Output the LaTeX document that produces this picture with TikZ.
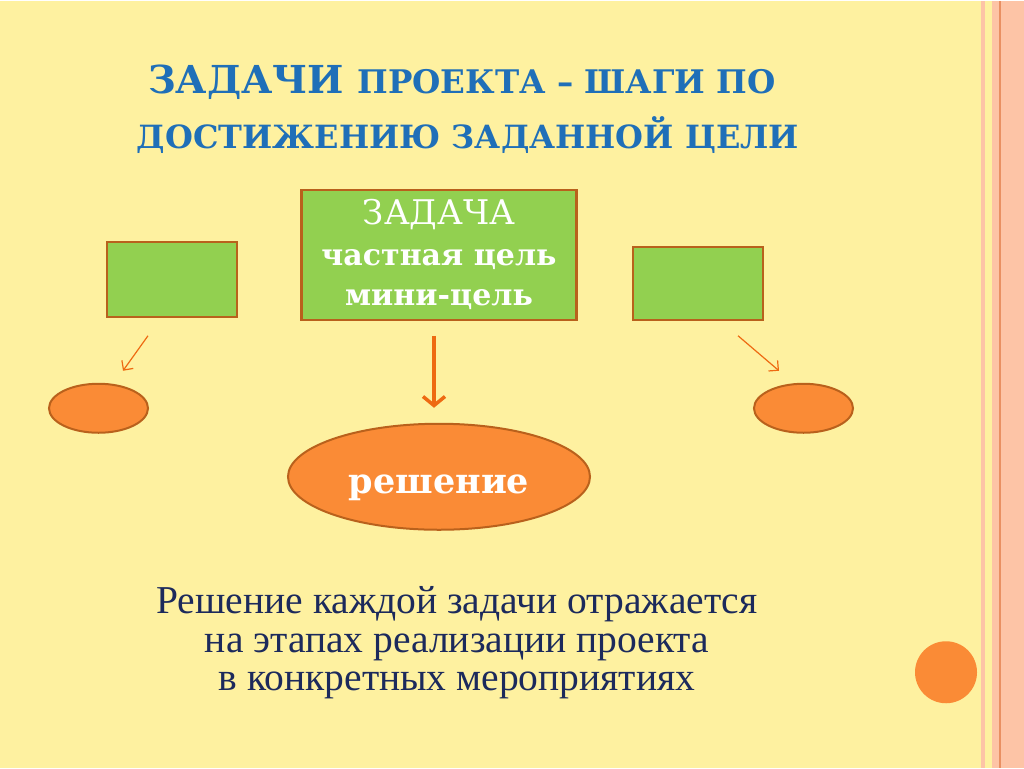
\documentclass[tikz,border=0pt]{standalone}
\usepackage{fontspec}
\setmainfont{DejaVu Serif}
\newfontfamily\notefont{Liberation Serif}
\usetikzlibrary{shapes.geometric,arrows.meta}
\definecolor{slide}{HTML}{FEF1A0}
\definecolor{stripe}{HTML}{FDC4A6}
\definecolor{stripeline}{HTML}{E99062}
\definecolor{titleblue}{HTML}{1F6FB8}
\definecolor{boxgreen}{HTML}{92D050}
\definecolor{boxedge}{HTML}{B9611C}
\definecolor{ovalfill}{HTML}{FA8B36}
\definecolor{arrowcol}{HTML}{EE6A12}
\definecolor{notecol}{HTML}{1C2A5C}
\tikzset{
  greenbox/.style={rectangle,draw=boxedge,fill=boxgreen,line width=2.5pt,inner sep=0pt},
  oval/.style={ellipse,draw=boxedge,fill=ovalfill,line width=2pt,inner sep=0pt},
  thinarrow/.style={draw=arrowcol,line width=1.2pt,-{Straight Barb[length=7pt,width=14pt]}},
  thickarrow/.style={draw=arrowcol,line width=3.5pt,-{Straight Barb[length=9pt,width=22pt]}},
  noteline/.style={anchor=base,text=notecol,font=\notefont\fontsize{39.5}{42}\selectfont}
}
\begin{document}
\begin{tikzpicture}[x=1pt,y=-1pt]
  % background and stripes
  \fill[slide] (0,0) rectangle (1024,767);
  \fill[stripe] (981,0) rectangle (985,767);
  \fill[stripe] (992,0) rectangle (1024,767);
  \draw[stripeline,line width=1.5pt] (1000,0) -- (1000,767);

  % title
  \node[anchor=base,text=titleblue,font=\bfseries] (title1) at (462,93)
    {{\fontsize{38.5}{44}\selectfont ЗАДАЧИ}\hspace{13pt}{\fontsize{32.5}{40}\selectfont ПРОЕКТА – ШАГИ ПО}};
  \node[anchor=base,text=titleblue,font=\bfseries\fontsize{32}{40}\selectfont] (title2) at (468,148)
    {ДОСТИЖЕНИЮ ЗАДАННОЙ ЦЕЛИ};

  % boxes
  \node[greenbox,minimum width=275pt,minimum height=130pt,text=white,align=center,
        font=\fontsize{34}{40.5}\selectfont] (zadacha) at (439,254)
    {ЗАДАЧА\\ \bfseries\fontsize{30}{40.5}\selectfont частная цель\\
     \bfseries\fontsize{30}{40.5}\selectfont мини-цель};
  \node[greenbox,minimum width=130pt,minimum height=75pt] (leftbox) at (172,278.5) {};
  \node[greenbox,minimum width=130pt,minimum height=73pt] (rightbox) at (698,282.5) {};

  % ovals
  \node[oval,minimum width=302pt,minimum height=106pt,text=white,text height=42pt,text depth=8pt,
        font=\bfseries\fontsize{35}{40}\selectfont] (reshenie) at (439,476) {решение};
  \node[oval,minimum width=99pt,minimum height=49pt] (leftoval) at (98.5,407.5) {};
  \node[oval,minimum width=99pt,minimum height=49pt] (rightoval) at (803.5,407.5) {};
  \node[circle,fill=ovalfill,minimum size=62pt,inner sep=0pt] (dot) at (946,671.5) {};

  % arrows
  \coordinate (la) at (148,335);
  \coordinate (lb) at (123,370);
  \coordinate (ra) at (738,335);
  \coordinate (rb) at (779,370);
  \coordinate (ca) at (434,335);
  \coordinate (cb) at (434,407);
  \draw[thinarrow] (la) -- (lb);
  \draw[thinarrow] (ra) -- (rb);
  \draw[thickarrow] (ca) -- (cb);

  % note
  \node[noteline] (note1) at (457,613) {Решение каждой задачи отражается};
  \node[noteline] (note2) at (457,652) {на этапах реализации проекта};
  \node[noteline] (note3) at (457,690) {в конкретных мероприятиях};
\end{tikzpicture}
\end{document}
